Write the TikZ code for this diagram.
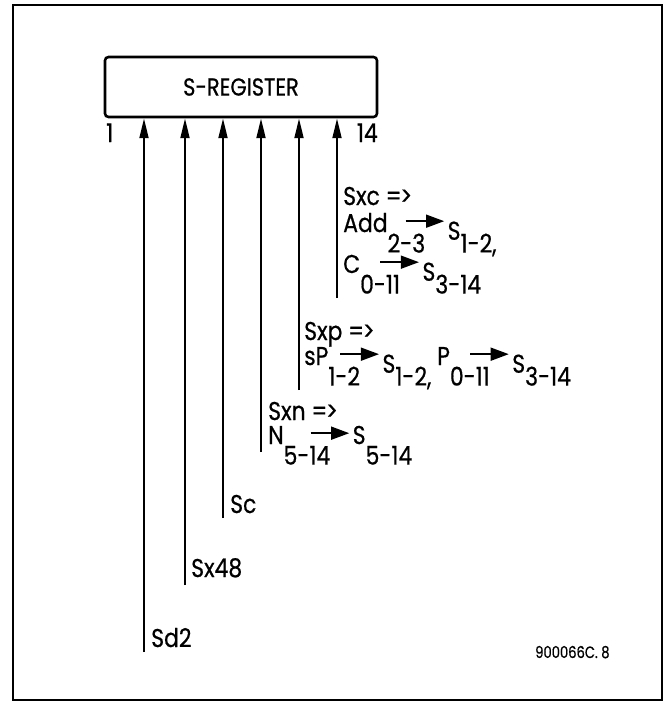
\documentclass[tikz,border=0pt]{standalone}
\usepackage{fontspec}
\setmainfont[FakeStretch=0.85,FakeBold=0.6]{Poppins}
\newfontfamily\numfont[FakeStretch=0.8,FakeBold=0.6]{Poppins}
\usetikzlibrary{arrows.meta}

% subscript set low at full size, S set half low, and the small transfer arrow
\newcommand{\lo}[1]{\raisebox{-0.8em}{#1}}
\newcommand{\mi}[1]{\raisebox{-0.3em}{#1}}
\newcommand{\xarrow}{\kern-0.8em\tikz[baseline=0pt,x=1em,y=1em]\draw[line width=1.6pt,-{Triangle[length=0.7em,width=0.5em]}] (0,0.42)--(1.5,0.42);\kern0.1em}

\begin{document}
\begin{tikzpicture}[x=0.03cm,y=-0.03cm,
    regBox/.style={draw,line width=2.2pt,rounded corners=3pt,minimum width=8.16cm,minimum height=1.8cm,inner sep=0pt,font=\fontsize{21}{25}\selectfont},
    busArrow/.style={line width=2.2pt,-{Triangle[length=17pt,width=7.5pt]}},
    busLbl/.style={anchor=base west,inner sep=0pt,text depth=0pt,font=\fontsize{22}{26}\selectfont},
]
\useasboundingbox (0,0) rectangle (669,702);
% Frame
\draw[line width=2.4pt] (13,5) rectangle (662,700);
% Register
\node[regBox] (reg) at (241,87) {S-REGISTER};
\node[busLbl] (bitlo) at (106,142) {1};
\node[busLbl,anchor=base east] (bithi) at (378,142) {14};
% Bus ends
\coordinate (sd2) at (144,652);
\coordinate (sx48) at (185,585);
\coordinate (sc) at (223,518);
\coordinate (sxn) at (261,452);
\coordinate (sxp) at (299,390);
\coordinate (sxc) at (337,298);
\foreach \b in {sd2,sx48,sc,sxn,sxp,sxc}
  \draw[busArrow] (\b) -- (\b |- reg.south);
% Labels
\node[busLbl] (lblsd2) at (151,647) {Sd2};
\node[busLbl] (lblsx48) at (191,577) {Sx48};
\node[busLbl] (lblsc) at (230,513) {Sc};
\node[busLbl] (lblsxn) at (268,420) {Sxn =\kern-0.05em>};
\node[busLbl] (lblsxnA) at (268,444) {N\lo{5-14}\xarrow S\lo{5-14}};
\node[busLbl] (lblsxp) at (304,340) {Sxp =\kern-0.05em>};
\node[busLbl] (lblsxpA) at (304,365) {sP\lo{1-2}\xarrow\mi{S}\lo{1-2,} P\lo{0-11}\xarrow\mi{S}\lo{3-14}};
\node[busLbl] (lblsxc) at (343,205) {Sxc =\kern-0.05em>};
\node[busLbl] (lblsxcA) at (343,232) {Add\lo{2-3}\xarrow\mi{S}\lo{1-2,}};
\node[busLbl] (lblsxcB) at (343,273) {C\lo{0-11}\xarrow\mi{S}\lo{3-14}};
% Figure number
\node[busLbl,font=\numfont\fontsize{14}{17}\selectfont] (fignum) at (535,658) {900066C. 8};
\end{tikzpicture}
\end{document}
